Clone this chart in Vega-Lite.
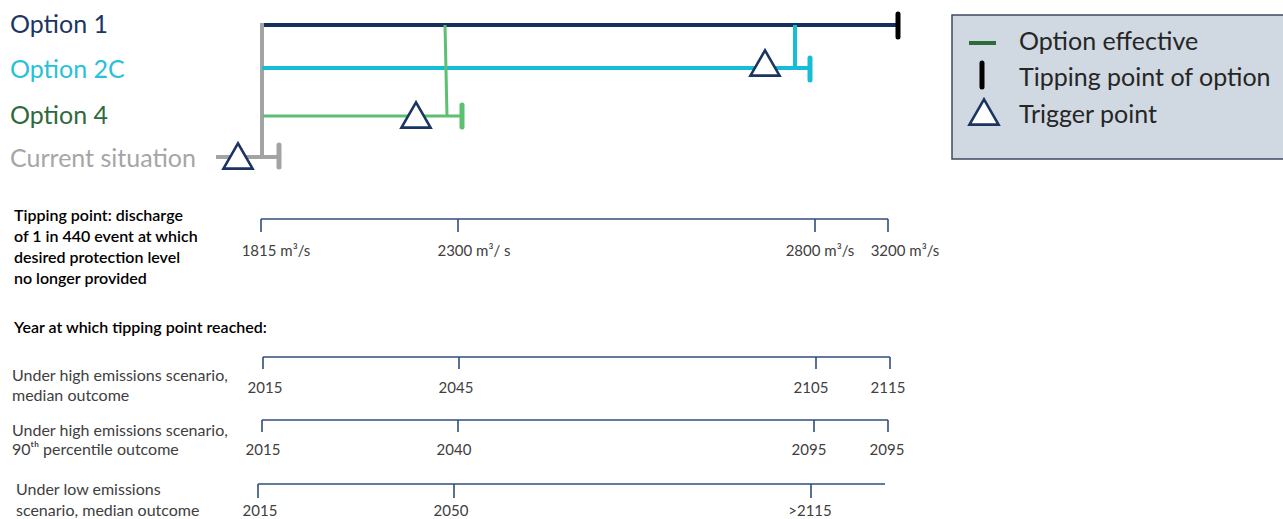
{
  "$schema": "https://vega.github.io/schema/vega-lite/v6.json",
  "width": 1283,
  "height": 519,
  "autosize": {"type": "none"},
  "padding": 0,
  "background": "white",
  "config": {"view": {"stroke": null}, "text": {"font": "Lato"}},
  "datasets": {
    "box": [{"x": 952, "x2": 1295, "y": 15, "y2": 159}],
    "paths": [
      {"series": "Option 1", "kind": "path", "x": 260, "x2": 898, "y": 25, "y2": 25},
      {"series": "Current situation", "kind": "path", "x": 262, "x2": 262, "y": 23, "y2": 159},
      {"series": "Current situation", "kind": "path", "x": 216, "x2": 278, "y": 157, "y2": 157},
      {"series": "Option 2C", "kind": "path", "x": 262, "x2": 808, "y": 68, "y2": 68},
      {"series": "Option 2C", "kind": "path", "x": 795, "x2": 795, "y": 25, "y2": 68},
      {"series": "Option 4", "kind": "thin", "x": 263, "x2": 460, "y": 116, "y2": 116},
      {"series": "Option 4", "kind": "thin", "x": 445, "x2": 447, "y": 25, "y2": 116},
      {"series": "Option effective", "kind": "path", "x": 969, "x2": 996, "y": 43, "y2": 43},
      {"series": "Current situation", "kind": "tick", "x": 279, "x2": 279, "y": 145, "y2": 167},
      {"series": "Tipping point of option", "kind": "tick", "x": 898, "x2": 898, "y": 14, "y2": 37},
      {"series": "Option 2C", "kind": "tick", "x": 810, "x2": 810, "y": 58, "y2": 80},
      {"series": "Option 4", "kind": "tick", "x": 462, "x2": 462, "y": 105, "y2": 127},
      {"series": "Tipping point of option", "kind": "tick", "x": 982, "x2": 982, "y": 63, "y2": 87}
    ],
    "triangles": [
      {"at": "Current situation", "x": 238, "y": 156},
      {"at": "Option 4", "x": 416, "y": 115},
      {"at": "Option 2C", "x": 765, "y": 63},
      {"at": "Legend", "x": 984, "y": 112}
    ],
    "axes": [
      {"row": "discharge", "kind": "line", "x": 261, "x2": 888, "y": 219, "y2": 219},
      {"row": "discharge", "kind": "tick", "x": 261, "x2": 261, "y": 219, "y2": 232},
      {"row": "discharge", "kind": "tick", "x": 458, "x2": 458, "y": 219, "y2": 232},
      {"row": "discharge", "kind": "tick", "x": 815, "x2": 815, "y": 219, "y2": 232},
      {"row": "discharge", "kind": "tick", "x": 888, "x2": 888, "y": 219, "y2": 232},
      {"row": "high median", "kind": "line", "x": 263, "x2": 890, "y": 357, "y2": 357},
      {"row": "high median", "kind": "tick", "x": 263, "x2": 263, "y": 357, "y2": 369},
      {"row": "high median", "kind": "tick", "x": 459, "x2": 459, "y": 357, "y2": 369},
      {"row": "high median", "kind": "tick", "x": 816, "x2": 816, "y": 357, "y2": 369},
      {"row": "high median", "kind": "tick", "x": 890, "x2": 890, "y": 357, "y2": 369},
      {"row": "high 90th", "kind": "line", "x": 262, "x2": 888, "y": 420, "y2": 420},
      {"row": "high 90th", "kind": "tick", "x": 262, "x2": 262, "y": 420, "y2": 432},
      {"row": "high 90th", "kind": "tick", "x": 458, "x2": 458, "y": 420, "y2": 432},
      {"row": "high 90th", "kind": "tick", "x": 814, "x2": 814, "y": 420, "y2": 432},
      {"row": "high 90th", "kind": "tick", "x": 888, "x2": 888, "y": 420, "y2": 432},
      {"row": "low median", "kind": "line", "x": 258, "x2": 885, "y": 484, "y2": 484},
      {"row": "low median", "kind": "tick", "x": 258, "x2": 258, "y": 484, "y2": 498},
      {"row": "low median", "kind": "tick", "x": 454, "x2": 454, "y": 484, "y2": 498},
      {"row": "low median", "kind": "tick", "x": 811, "x2": 811, "y": 484, "y2": 498}
    ],
    "optionLabels": [
      {"label": "Option 1", "x": 10, "y": 33},
      {"label": "Option 2C", "x": 10, "y": 78},
      {"label": "Option 4", "x": 10, "y": 124},
      {"label": "Current situation", "x": 10, "y": 167}
    ],
    "legendLabels": [
      {"label": "Option effective", "x": 1019, "y": 50},
      {"label": "Tipping point of option", "x": 1019, "y": 86},
      {"label": "Trigger point", "x": 1019, "y": 123}
    ],
    "notes": [
      {"label": "Tipping point: discharge", "x": 14, "y": 221},
      {"label": "of 1 in 440 event at which", "x": 14, "y": 242},
      {"label": "desired protection level", "x": 14, "y": 263},
      {"label": "no longer provided", "x": 14, "y": 284},
      {"label": "Year at which tipping point reached:", "x": 14, "y": 333}
    ],
    "scenarios": [
      {"label": "Under high emissions scenario,", "x": 12, "y": 381},
      {"label": "median outcome", "x": 12, "y": 401},
      {"label": "Under high emissions scenario,", "x": 12, "y": 436},
      {"label": "90ᵗʰ percentile outcome", "x": 12, "y": 455},
      {"label": "Under low emissions", "x": 16, "y": 495},
      {"label": "scenario, median outcome", "x": 16, "y": 516}
    ],
    "tickLabels": [
      {"label": "1815 m³/s", "x": 276, "y": 256},
      {"label": "2300 m³/ s", "x": 474, "y": 256},
      {"label": "2800 m³/s", "x": 820, "y": 256},
      {"label": "3200 m³/s", "x": 905, "y": 256},
      {"label": "2015", "x": 265, "y": 393},
      {"label": "2045", "x": 456, "y": 393},
      {"label": "2105", "x": 811, "y": 393},
      {"label": "2115", "x": 888, "y": 393},
      {"label": "2015", "x": 263, "y": 455},
      {"label": "2040", "x": 454, "y": 455},
      {"label": "2095", "x": 809, "y": 455},
      {"label": "2095", "x": 887, "y": 455},
      {"label": "2015", "x": 260, "y": 516},
      {"label": "2050", "x": 451, "y": 516},
      {"label": ">2115", "x": 810, "y": 516}
    ]
  },
  "encoding": {
    "x": {"field": "x", "type": "quantitative", "scale": {"domain": [0, 1283], "nice": false, "zero": false}, "axis": null},
    "y": {"field": "y", "type": "quantitative", "scale": {"domain": [0, 519], "nice": false, "zero": false, "reverse": true}, "axis": null}
  },
  "layer": [
    {
      "data": {"name": "box"},
      "mark": {"type": "rect", "fill": "#d0d8e2", "stroke": "#3b4a60", "strokeWidth": 1.5},
      "encoding": {"x2": {"field": "x2"}, "y2": {"field": "y2"}}
    },
    {
      "data": {"name": "axes"},
      "mark": {"type": "rule", "color": "#2f4d7c", "strokeWidth": 1.6},
      "encoding": {"x2": {"field": "x2"}, "y2": {"field": "y2"}}
    },
    {
      "data": {"name": "paths"},
      "transform": [{"filter": "datum.kind == 'path'"}],
      "mark": {"type": "rule", "strokeWidth": 4, "strokeCap": "butt"},
      "encoding": {
        "x2": {"field": "x2"}, "y2": {"field": "y2"},
        "color": {"field": "series", "type": "nominal", "legend": null,
          "scale": {"domain": ["Option 1", "Option 2C", "Option 4", "Current situation", "Option effective", "Tipping point of option"],
                    "range": ["#15305e", "#16bdd6", "#5cc070", "#a3a3a3", "#2e6b3a", "#000000"]}}
      }
    },
    {
      "data": {"name": "paths"},
      "transform": [{"filter": "datum.kind == 'thin'"}],
      "mark": {"type": "rule", "strokeWidth": 3, "strokeCap": "butt"},
      "encoding": {
        "x2": {"field": "x2"}, "y2": {"field": "y2"},
        "color": {"field": "series", "type": "nominal", "legend": null,
          "scale": {"domain": ["Option 1", "Option 2C", "Option 4", "Current situation", "Option effective", "Tipping point of option"],
                    "range": ["#15305e", "#16bdd6", "#5cc070", "#a3a3a3", "#2e6b3a", "#000000"]}}
      }
    },
    {
      "data": {"name": "paths"},
      "transform": [{"filter": "datum.kind == 'tick'"}],
      "mark": {"type": "rule", "strokeWidth": 5, "strokeCap": "round"},
      "encoding": {
        "x2": {"field": "x2"}, "y2": {"field": "y2"},
        "color": {"field": "series", "type": "nominal", "legend": null,
          "scale": {"domain": ["Option 1", "Option 2C", "Option 4", "Current situation", "Option effective", "Tipping point of option"],
                    "range": ["#15305e", "#16bdd6", "#5cc070", "#a3a3a3", "#2e6b3a", "#000000"]}}
      }
    },
    {
      "data": {"name": "triangles"},
      "mark": {"type": "point", "shape": "triangle-up", "size": 850, "filled": true, "fill": "white", "stroke": "#1b3461", "strokeWidth": 2.6, "opacity": 1},
      "encoding": {}
    },
    {
      "data": {"name": "optionLabels"},
      "mark": {"type": "text", "fontSize": 25, "align": "left", "baseline": "alphabetic"},
      "encoding": {
        "text": {"field": "label"},
        "color": {"field": "label", "type": "nominal", "legend": null,
          "scale": {"domain": ["Option 1", "Option 2C", "Option 4", "Current situation"],
                    "range": ["#1c3664", "#27c1d9", "#2e6a3b", "#a6a6a6"]}}
      }
    },
    {
      "data": {"name": "legendLabels"},
      "mark": {"type": "text", "fontSize": 25, "align": "left", "baseline": "alphabetic", "color": "#262626"},
      "encoding": {"text": {"field": "label"}}
    },
    {
      "data": {"name": "notes"},
      "mark": {"type": "text", "fontSize": 16, "fontWeight": 600, "align": "left", "baseline": "alphabetic", "color": "#000000"},
      "encoding": {"text": {"field": "label"}}
    },
    {
      "data": {"name": "scenarios"},
      "mark": {"type": "text", "fontSize": 16, "align": "left", "baseline": "alphabetic", "color": "#404040"},
      "encoding": {"text": {"field": "label"}}
    },
    {
      "data": {"name": "tickLabels"},
      "mark": {"type": "text", "fontSize": 15, "align": "center", "baseline": "alphabetic", "color": "#404040"},
      "encoding": {"text": {"field": "label"}}
    }
  ],
  "resolve": {"scale": {"color": "independent"}}
}
